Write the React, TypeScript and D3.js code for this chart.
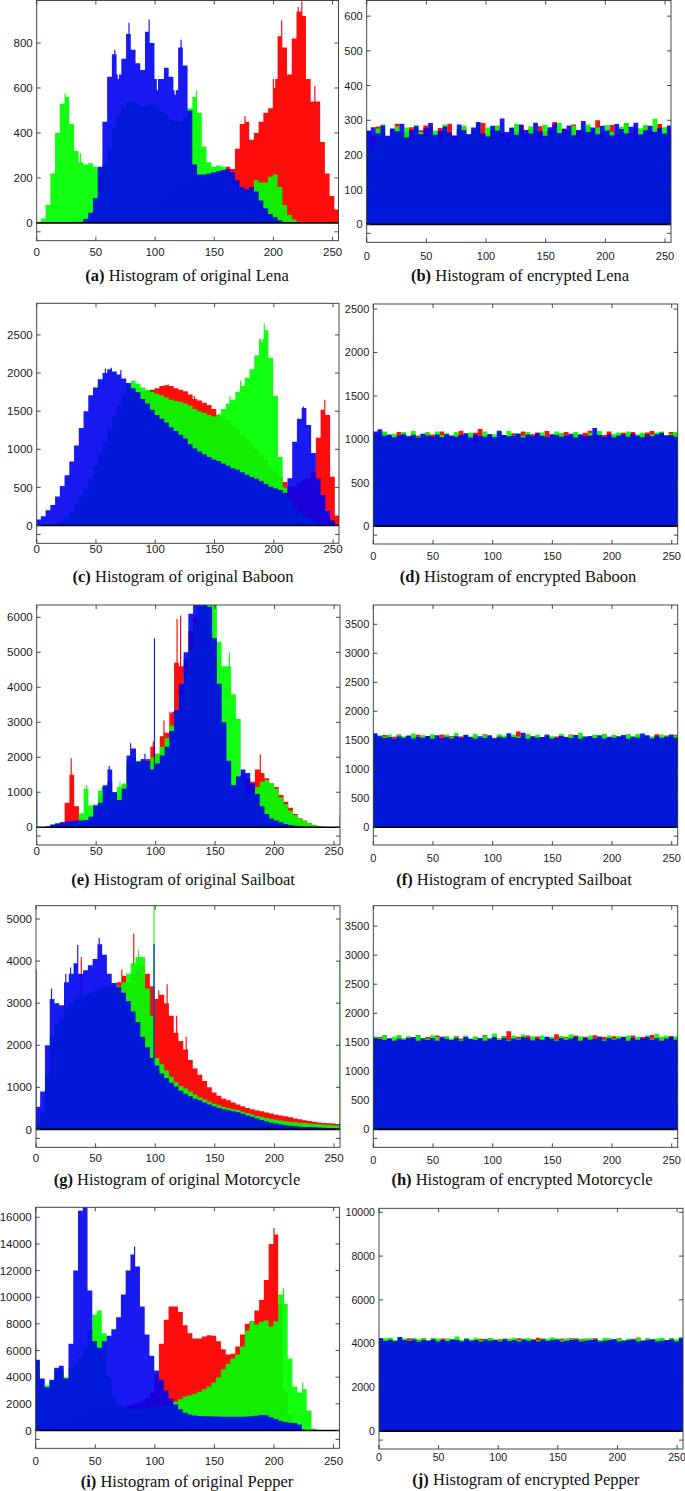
import React from "react";
import * as d3 from "d3";

// ---------- DATA (each value = one 4-bin group: bins 4k..4k+3) ----------
const TICKS_X = [0, 50, 100, 150, 200, 250];

// (a) Lena original
const lenaR = [0,0,0,0,0,0,0,0,0,0,0,0,0,0,0,0,0,0,0,0,0,0,10,30,50,70,90,110,130,150,160,170,180,185,190,195,200,205,215,230,250,240,330,440,450,370,400,450,490,510,640,830,780,660,820,940,920,640,540,540,360,220,120,60];
const lenaG = [5,20,80,220,400,530,560,440,320,270,260,265,250,240,270,330,420,480,520,540,540,530,520,520,530,520,500,480,460,450,450,470,510,560,490,340,270,250,255,250,230,200,170,150,140,150,190,180,180,205,215,160,80,35,15,5,0,0,0,0,0,0,0,0];
const lenaB = [0,0,0,0,0,0,0,0,0,5,18,45,110,250,450,650,750,660,730,840,770,710,680,850,800,640,640,690,650,590,780,700,500,260,215,215,220,225,230,235,240,225,190,160,150,160,140,100,65,40,25,12,4,0,0,0,0,0,0,0,0,0,0,0];
const lenaSpR = [[224, 985], [207, 900], [221, 960], [176, 475], [201, 600], [235, 610]];
const lenaSpG = [[135, 590], [24, 575], [37, 310]];
const lenaSpB = [[78, 890], [95, 905], [66, 770], [122, 815], [69, 640], [102, 590], [117, 570]];

// (c) Baboon original
const baboonR = [0,0,5,10,15,20,50,90,150,250,330,450,580,720,900,1050,1200,1370,1480,1620,1680,1720,1760,1770,1780,1800,1830,1840,1830,1800,1780,1760,1720,1660,1640,1610,1580,1530,1450,1410,1380,1320,1270,1180,1130,1050,990,920,860,780,720,640,570,510,520,560,600,620,700,1150,1520,1450,640,130];
const baboonG = [0,5,10,20,40,60,110,180,280,380,480,620,780,950,1100,1280,1440,1580,1720,1850,1900,1860,1810,1780,1750,1730,1710,1680,1650,1635,1620,1600,1570,1530,1500,1480,1450,1430,1460,1530,1600,1650,1750,1830,1940,2050,2230,2450,2560,2200,1700,900,500,350,250,180,140,100,70,50,30,20,10,5];
const baboonB = [80,120,200,270,380,520,660,840,1050,1280,1500,1710,1810,1920,2000,2050,2020,1980,1930,1870,1800,1750,1660,1600,1520,1450,1400,1350,1290,1240,1190,1140,1065,1010,970,935,900,865,845,815,785,750,730,700,665,635,615,580,545,510,485,465,430,620,1100,1400,1540,1320,950,620,400,190,70,15];
const baboonSpR = [[111, 1850], [243, 1650], [118, 1800], [133, 1700]];
const baboonSpG = [[192, 2650], [190, 2400], [172, 1900], [163, 1700]];
const baboonSpB = [[63, 2070], [225, 1560], [58, 2060], [71, 2040]];

// (e) Sailboat original
const sailR = [0,0,10,40,80,150,700,1500,600,250,200,300,550,900,1150,1300,1000,900,1200,1800,1900,1850,1900,1950,2300,2100,2600,2700,3300,4700,4600,4800,5600,6000,6200,6000,5500,4800,3700,2700,1800,1100,1300,1500,1400,1300,1650,1550,1400,1250,1150,920,730,560,380,260,190,110,60,30,15,8,4,2];
const sailG = [0,0,30,70,100,120,140,150,170,400,1100,620,650,1050,1150,1250,1000,1150,1250,1900,2000,1900,1900,1900,2000,2100,2300,2550,2900,3300,3800,4400,5100,5800,6300,6500,6600,6500,5300,4600,4600,3800,3100,1400,950,1000,1150,1300,1350,1250,1100,850,660,480,350,250,180,110,60,30,15,8,5,5];
const sailB = [5,5,20,75,110,130,160,180,190,195,210,300,620,700,1200,1650,1000,780,1100,2050,2250,1880,1950,1900,1650,1820,2050,2300,2750,3350,4100,5000,6100,6800,7200,7000,6300,5400,4100,3000,1900,1200,1450,1650,1550,1250,950,600,380,250,190,140,90,60,40,30,20,10,5,3,2,0,0,0];
const sailSpR = [[29, 1970], [98, 2450], [118, 5950], [121, 6050], [188, 2080], [107, 3050], [113, 3250]];
const sailSpG = [[42, 1200], [162, 5000], [255, 350], [55, 1150], [70, 1300]];
const sailSpB = [[0, 1000], [99, 5400], [79, 2400], [61, 1750], [91, 2100]];

// (g) Motorcycle original
const motoR = [0,300,1000,1800,2200,2400,2600,2800,2950,3100,3150,3200,3250,3300,3350,3350,3400,3500,3650,3500,3700,3800,3900,3700,3400,3100,3200,3000,2700,2300,2100,1900,1650,1450,1300,1150,1000,880,800,730,690,640,590,550,510,480,450,430,400,380,350,330,310,290,260,240,220,200,180,165,155,145,140,130];
const motoG = [100,400,1300,2200,2500,2650,2900,3000,3100,3150,3200,3250,3300,3350,3400,3400,3400,3400,3500,3700,3950,4100,4100,3350,2700,1700,1550,1400,1250,1120,1030,970,900,830,760,710,660,610,575,530,505,480,460,420,390,360,320,300,270,250,230,210,195,180,170,160,150,140,130,120,115,105,100,95];
const motoB = [540,900,2000,3100,3000,2950,3500,3700,3950,3700,3780,3900,4050,4400,4150,3700,3480,3380,3250,3050,2800,2550,2200,1950,1700,1520,1330,1220,1110,1020,920,850,790,730,690,640,590,550,510,480,455,430,405,370,330,300,260,225,190,160,140,120,100,85,75,65,60,55,50,45,40,35,30,30];
const motoSpR = [[82, 4650], [38, 4100], [110, 3450], [72, 3800], [103, 3300], [118, 2700], [126, 2200]];
const motoSpG = [[99, 5600], [255, 4000], [24, 3100], [86, 4250]];
const motoSpB = [[0, 3800], [99, 4400], [35, 4380], [13, 3350], [53, 4550], [255, 150], [25, 3700], [29, 3850]];

// (i) Pepper original
const pepR = [300,300,300,300,350,400,500,700,850,1000,1150,1250,1350,1400,1450,1500,1550,1650,1750,1850,1950,2050,2200,2400,2800,4200,6500,8300,9300,9300,8900,7900,7300,6900,6900,7050,7150,7100,6700,6100,5700,5750,6300,7200,8000,8200,9000,9800,11300,14000,14700,9500,3000,1200,600,300,100,0,0,0,0,0,0,0];
const pepG = [5200,3800,3400,3700,4500,4600,4000,4700,5000,5500,6200,7500,8700,9000,7300,4000,2500,1900,1700,1600,1600,1600,1650,1700,1750,1800,1850,1900,2000,2150,2350,2550,2650,2750,2900,3100,3300,3600,4000,4600,5000,5400,5700,6300,7500,8200,7950,8150,8250,7800,8200,10200,9500,5400,3300,2850,3100,1500,150,0,0,0,0,0];
const pepB = [5300,3900,3250,3800,4700,4850,3900,6500,12000,16500,17500,10500,6700,6200,6700,7100,7600,8500,10200,12000,13200,12300,9300,7200,5600,4500,3800,3000,2400,1950,1600,1330,1200,1130,1090,1070,1060,1050,1040,1030,1025,1025,1025,1030,1040,1060,1100,1160,1150,1000,850,720,630,570,560,450,50,0,0,0,0,0,0,0];
const pepSpR = [[200, 15200]];
const pepSpG = [[0, 6600], [224, 3600], [208, 10700]];
const pepSpB = [[0, 17000], [83, 13800]];

// (b) Lena encrypted
const lenaEncR = [270,255,282,262,248,275,290,258,266,280,252,271,285,260,247,278,268,290,255,272,281,259,266,276,292,258,270,284,262,251,279,268,287,260,275,254,283,266,271,295,258,276,263,288,270,252,281,265,300,262,274,286,258,269,291,263,277,255,284,268,273,289,260,276];
const lenaEncG = [262,225,276,288,250,270,283,258,279,244,286,266,253,281,270,247,288,262,240,275,285,259,272,290,248,279,265,284,256,238,277,290,263,251,283,270,246,287,261,278,292,255,269,284,247,275,288,260,279,250,286,267,256,281,293,262,248,277,286,259,304,265,280,272];
const lenaEncB = [270,280,262,285,255,276,268,290,250,272,283,260,277,292,258,270,282,265,256,288,271,260,279,295,262,253,284,270,305,266,278,258,287,272,262,293,268,255,280,290,263,274,285,257,272,298,266,279,260,284,270,256,289,275,262,281,293,260,271,284,266,278,262,285];

// (d) Baboon encrypted
const baboonEncR = [1060,1025,1075,1040,1020,1085,1050,1030,1070,1045,1015,1080,1055,1035,1090,1040,1025,1065,1100,1045,1030,1075,1120,1040,1060,1025,1080,1050,1035,1070,1045,1090,1030,1060,1080,1040,1095,1025,1055,1070,1085,1035,1060,1045,1075,1100,1030,1065,1050,1090,1040,1020,1075,1055,1085,1035,1060,1080,1095,1040,1065,1050,1085,1070];
const baboonEncG = [1050,1075,1090,1030,1065,1020,1085,1045,1095,1030,1060,1080,1025,1090,1050,1070,1035,1085,1010,1065,1075,970,1045,1090,1040,1060,1080,1020,1095,1050,1070,1040,1085,1030,1065,1080,1020,1055,1090,1070,1045,1030,1085,1060,995,1075,1050,1095,1030,985,1065,1080,1045,1090,1035,1060,1075,990,1055,1080,1090,1045,1065,1085];
const baboonEncB = [1090,1115,1040,1055,1025,1045,1060,1035,1050,1020,1065,1045,1030,1055,1025,1060,1045,1030,1050,1070,1020,1055,1040,1030,1060,1025,1100,1050,1035,1045,1065,1020,1055,1035,1070,1040,1025,1060,1050,1030,1045,1065,1020,1055,1035,1045,1130,1050,1030,1060,1020,1045,1055,1030,1065,1040,1025,1055,1035,1060,1075,1040,1050,1030];

// (f) Sailboat encrypted
const sailEncR = [1575,1545,1590,1540,1560,1600,1535,1570,1550,1595,1545,1565,1585,1530,1600,1555,1575,1540,1565,1595,1545,1580,1535,1605,1560,1545,1590,1535,1575,1560,1650,1545,1595,1530,1580,1555,1600,1540,1565,1585,1545,1600,1535,1575,1560,1545,1590,1530,1610,1550,1580,1540,1565,1600,1545,1585,1535,1575,1560,1605,1545,1580,1540,1595];
const sailEncG = [1610,1585,1560,1600,1530,1595,1570,1545,1615,1565,1590,1530,1605,1570,1545,1600,1560,1625,1535,1590,1565,1610,1540,1595,1570,1530,1605,1580,1545,1600,1565,1530,1610,1560,1595,1540,1600,1570,1530,1610,1560,1590,1545,1630,1565,1535,1600,1570,1610,1545,1595,1560,1530,1605,1570,1610,1545,1590,1560,1530,1600,1570,1610,1580];
const sailEncB = [1620,1570,1540,1555,1525,1565,1545,1580,1530,1560,1545,1575,1525,1585,1540,1560,1530,1570,1545,1590,1555,1525,1570,1540,1585,1530,1560,1545,1620,1555,1540,1630,1525,1570,1545,1555,1585,1530,1545,1575,1555,1540,1590,1525,1560,1575,1540,1585,1530,1560,1545,1570,1590,1525,1560,1545,1615,1580,1530,1570,1545,1560,1590,1545];

// (h) Motorcycle encrypted
const motoEncR = [1565,1590,1620,1560,1545,1610,1565,1595,1550,1625,1560,1590,1540,1615,1560,1595,1550,1610,1565,1600,1540,1595,1560,1625,1550,1590,1565,1610,1690,1555,1595,1545,1615,1560,1600,1540,1590,1565,1640,1550,1595,1560,1615,1545,1595,1560,1620,1540,1590,1565,1605,1550,1595,1560,1615,1545,1590,1565,1625,1550,1595,1560,1610,1575];
const motoEncG = [1600,1570,1615,1540,1595,1625,1560,1605,1535,1615,1580,1560,1620,1590,1535,1610,1565,1605,1545,1615,1560,1595,1540,1615,1580,1650,1555,1600,1540,1615,1560,1635,1565,1605,1540,1615,1560,1595,1545,1610,1580,1640,1560,1605,1535,1615,1565,1600,1545,1615,1560,1605,1540,1615,1565,1595,1545,1615,1560,1645,1590,1615,1560,1605];
const motoEncB = [1580,1555,1540,1570,1525,1560,1545,1575,1590,1525,1565,1540,1575,1525,1595,1560,1540,1575,1525,1590,1560,1540,1575,1525,1560,1590,1540,1575,1525,1565,1545,1590,1575,1530,1560,1545,1595,1560,1525,1575,1545,1565,1590,1525,1575,1545,1560,1595,1525,1575,1545,1565,1590,1525,1575,1545,1565,1595,1545,1575,1525,1565,1590,1545];

// (j) Pepper encrypted
const pepEncR = [4190,4110,4230,4150,4200,4120,4240,4140,4180,4260,4110,4210,4150,4230,4110,4190,4220,4140,4250,4120,4190,4220,4140,4240,4110,4200,4150,4220,4110,4240,4180,4130,4210,4270,4140,4190,4250,4120,4220,4150,4240,4110,4200,4220,4140,4240,4120,4190,4220,4150,4240,4110,4200,4220,4280,4140,4240,4120,4190,4220,4140,4240,4120,4200];
const pepEncG = [4210,4250,4270,4170,4290,4230,4140,4260,4200,4250,4160,4270,4230,4140,4250,4200,4330,4160,4250,4200,4270,4160,4230,4260,4200,4150,4250,4210,4270,4160,4230,4250,4200,4150,4250,4210,4280,4230,4160,4250,4200,4260,4150,4230,4250,4200,4160,4270,4230,4200,4250,4160,4230,4200,4260,4150,4250,4200,4230,4270,4160,4250,4200,4300];
const pepEncB = [4260,4130,4180,4110,4300,4160,4120,4190,4100,4170,4130,4200,4100,4160,4120,4190,4170,4100,4200,4130,4170,4100,4190,4130,4170,4100,4200,4120,4170,4100,4190,4130,4160,4100,4200,4120,4170,4190,4100,4130,4170,4200,4100,4130,4170,4190,4100,4130,4160,4200,4100,4130,4170,4190,4100,4130,4160,4200,4100,4130,4170,4190,4100,4250];

// ---------- LAYOUT ----------
const PANELS = [
  { key: "a", tag: "(a)", text: " Histogram of original Lena", left: 36.7, right: 338.5, top: 0.5, bottom: 240.7, max: 989, step: 200, tickY: 252, capY: 276, capX: 187, fs: 11.5,
    R: [lenaR, lenaSpR], G: [lenaG, lenaSpG], B: [lenaB, lenaSpB] },
  { key: "b", tag: "(b)", text: " Histogram of encrypted Lena", left: 366.7, right: 671, top: 0.5, bottom: 242.3, max: 645, step: 100, tickY: 256, capY: 276, capX: 520, fs: 11,
    R: [lenaEncR, []], G: [lenaEncG, []], B: [lenaEncB, []] },
  { key: "c", tag: "(c)", text: " Histogram of original Baboon", left: 36.7, right: 339, top: 303.3, bottom: 543.3, max: 2915, step: 500, tickY: 549, capY: 577, capX: 183, fs: 11.5,
    R: [baboonR, baboonSpR], G: [baboonG, baboonSpG], B: [baboonB, baboonSpB] },
  { key: "d", tag: "(d)", text: " Histogram of encrypted Baboon", left: 373.3, right: 677.7, top: 304, bottom: 544, max: 2558, step: 500, tickY: 556, capY: 577, capX: 518, fs: 11,
    R: [baboonEncR, []], G: [baboonEncG, []], B: [baboonEncB, []] },
  { key: "e", tag: "(e)", text: " Histogram of original Sailboat", left: 36.7, right: 340, top: 605, bottom: 845, max: 6352, step: 1000, tickY: 851, capY: 880, capX: 183, fs: 11.5,
    R: [sailR, sailSpR], G: [sailG, sailSpG], B: [sailB, sailSpB] },
  { key: "f", tag: "(f)", text: " Histogram of encrypted Sailboat", left: 373.3, right: 677.7, top: 605, bottom: 845, max: 3833, step: 500, tickY: 858, capY: 880, capX: 514, fs: 11,
    R: [sailEncR, []], G: [sailEncG, []], B: [sailEncB, []] },
  { key: "g", tag: "(g)", text: " Histogram of original Motorcycle", left: 36, right: 340, top: 905.7, bottom: 1147.3, max: 5317, step: 1000, tickY: 1158, capY: 1180, capX: 177, fs: 11.5,
    R: [motoR, motoSpR], G: [motoG, motoSpG], B: [motoB, motoSpB] },
  { key: "h", tag: "(h)", text: " Histogram of encrypted Motorcycle", left: 373.3, right: 677.7, top: 905.7, bottom: 1147.3, max: 3852, step: 500, tickY: 1160, capY: 1180, capX: 522, fs: 11,
    R: [motoEncR, []], G: [motoEncG, []], B: [motoEncB, []] },
  { key: "i", tag: "(i)", text: " Histogram of original Pepper", left: 35.7, right: 339.5, top: 1207.3, bottom: 1448.3, max: 16750, step: 2000, tickY: 1461, capY: 1482, capX: 187, fs: 11.5,
    R: [pepR, pepSpR], G: [pepG, pepSpG], B: [pepB, pepSpB] },
  { key: "j", tag: "(j)", text: " Histogram of encrypted Pepper", left: 379, right: 683, top: 1208.3, bottom: 1449, max: 10183, step: 2000, tickY: 1457, capY: 1480, capX: 526, fs: 10.6,
    R: [pepEncR, []], G: [pepEncG, []], B: [pepEncB, []] },
];

const CHANNELS = [
  { k: "R", color: "#ff0000", op: 0.95 },
  { k: "G", color: "#00ff00", op: 0.93 },
  { k: "B", color: "#0000f0", op: 0.9 },
];

function expandBins(groups, spikes) {
  const out = d3.range(256).map((b) => groups[Math.floor(b / 4)] ?? 0);
  (spikes || []).forEach(([b, v]) => { out[b] = v; });
  return out;
}

function channelPath(bins, x, y) {
  const bw = x(1) - x(0);
  const y0 = y(0);
  const path = d3.path();
  bins.forEach((v, b) => {
    if (v > 0) path.rect(x(b) - bw * 0.5, y(v), bw, y0 - y(v));
  });
  return path.toString();
}

function Panel({ p }) {
  const x = d3.scaleLinear().domain([0, 255]).range([p.left, p.right]);
  const y = d3.scaleLinear().domain([-0.08 * p.max, p.max]).range([p.bottom, p.top]);
  const y0 = y(0);
  const yTicks = d3.range(0, p.max + 1e-6, p.step);
  const clipId = "clip-" + p.key;
  const tickLen = 4;
  const negMid = (y0 + p.bottom) / 2;
  const sans = "'Liberation Sans', Arial, Helvetica, sans-serif";
  return (
    <g>
      <defs>
        <clipPath id={clipId}>
          <rect x={p.left} y={p.top} width={p.right - p.left} height={y0 - p.top} />
        </clipPath>
      </defs>
      <g clipPath={`url(#${clipId})`}>
        {CHANNELS.map((ch) => {
          const [groups, spikes] = p[ch.k];
          const bins = expandBins(groups, spikes);
          return <path key={ch.k} d={channelPath(bins, x, y)} fill={ch.color} fillOpacity={ch.op} />;
        })}
      </g>
      <rect x={p.left} y={p.top} width={p.right - p.left} height={p.bottom - p.top} fill="none" stroke="#333" strokeWidth={0.9} />
      <line x1={p.left} x2={p.right} y1={y0} y2={y0} stroke="#000" strokeWidth={1.6} />
      {yTicks.map((t) => (
        <g key={"yt" + t}>
          <line x1={p.left} x2={p.left + tickLen} y1={y(t)} y2={y(t)} stroke="#333" strokeWidth={0.9} />
          <line x1={p.right} x2={p.right - tickLen} y1={y(t)} y2={y(t)} stroke="#333" strokeWidth={0.9} />
          <text x={p.left - 4} y={y(t)} dy="0.36em" textAnchor="end" fontFamily={sans} fontSize={p.fs} fill="#1a1a1a">{t}</text>
        </g>
      ))}
      <line x1={p.left} x2={p.left + tickLen} y1={negMid} y2={negMid} stroke="#333" strokeWidth={0.9} />
      <line x1={p.right} x2={p.right - tickLen} y1={negMid} y2={negMid} stroke="#333" strokeWidth={0.9} />
      {TICKS_X.map((t) => (
        <g key={"xt" + t}>
          <line x1={x(t)} x2={x(t)} y1={p.top} y2={p.top + tickLen} stroke="#333" strokeWidth={0.9} />
          <line x1={x(t)} x2={x(t)} y1={p.bottom} y2={p.bottom - tickLen} stroke="#333" strokeWidth={0.9} />
          <text x={x(t)} y={p.tickY} dy="0.36em" textAnchor="middle" fontFamily={sans} fontSize={p.fs} fill="#1a1a1a">{t}</text>
        </g>
      ))}
      <text x={p.capX} y={p.capY} dy="0.33em" textAnchor="middle" fontFamily="'Liberation Serif', 'Times New Roman', Times, serif" fontSize={16.5} fill="#111">
        <tspan fontWeight="bold">{p.tag}</tspan>
        <tspan>{p.text}</tspan>
      </text>
    </g>
  );
}

export default function App() {
  return (
    <svg width={685} height={1491} viewBox="0 0 685 1491" style={{ position: "absolute", left: 0, top: 0, background: "#fff" }}>
      <rect x={0} y={0} width={685} height={1491} fill="#fff" />
      {PANELS.map((p) => (
        <Panel key={p.key} p={p} />
      ))}
    </svg>
  );
}
